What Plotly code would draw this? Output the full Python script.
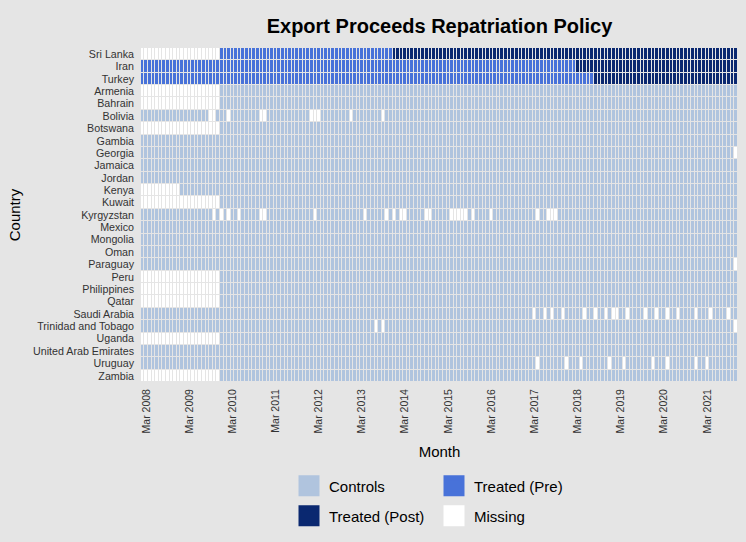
import pandas as pd
import numpy as np
import plotly.graph_objects as go

# rows, top to bottom
countries = [
    "Sri Lanka", "Iran", "Turkey", "Armenia", "Bahrain", "Bolivia", "Botswana",
    "Gambia", "Georgia", "Jamaica", "Jordan", "Kenya", "Kuwait", "Kyrgyzstan",
    "Mexico", "Mongolia", "Oman", "Paraguay", "Peru", "Philippines", "Qatar",
    "Saudi Arabia", "Trinidad and Tobago", "Uganda", "United Arab Emirates",
    "Uruguay", "Zambia",
]

first_month = "2008-02"
last_month = "2021-11"

# first month with data (missing before)
late_start = {
    "Sri Lanka": "2009-12", "Armenia": "2009-12", "Bahrain": "2009-12",
    "Botswana": "2009-12", "Kenya": "2009-01", "Kuwait": "2009-12",
    "Peru": "2009-12", "Philippines": "2009-12", "Qatar": "2009-12",
    "Uganda": "2009-12", "Zambia": "2009-12",
}

# single missing months
gaps = {
    "Bolivia": ["2009-09", "2009-10", "2010-02", "2010-11", "2010-12", "2012-01",
                "2012-02", "2012-03", "2012-12", "2013-09"],
    "Georgia": ["2021-11"],
    "Kyrgyzstan": ["2009-10", "2009-12", "2010-02", "2010-05", "2010-11", "2010-12",
                   "2012-02", "2013-04", "2013-10", "2013-12", "2014-02", "2014-03",
                   "2014-09", "2014-10", "2015-04", "2015-05", "2015-06", "2015-07",
                   "2015-08", "2015-10", "2016-03", "2017-04", "2017-07", "2017-08",
                   "2017-09"],
    "Paraguay": ["2021-11"],
    "Saudi Arabia": ["2017-03", "2017-06", "2017-08", "2017-11", "2018-05", "2018-08",
                     "2018-11", "2019-01", "2019-02", "2019-05", "2019-10", "2020-01",
                     "2020-04", "2020-07", "2020-12", "2021-04", "2021-09"],
    "Trinidad and Tobago": ["2013-07", "2013-09", "2021-11"],
    "Uruguay": ["2017-04", "2017-12", "2018-04", "2018-12", "2019-04", "2019-12",
                "2020-04", "2020-12", "2021-03"],
}

# treated countries: policy start month
treated = ["Sri Lanka", "Iran", "Turkey"]
policy_start = {"Sri Lanka": "2013-12", "Iran": "2018-03", "Turkey": "2018-08"}

status_names = ["Controls", "Treated (Pre)", "Treated (Post)", "Missing"]
status_colors = ["#B0C4DE", "#4872D9", "#0A2870", "#FFFFFF"]

tick_vals = [f"{y}-03-01" for y in range(2008, 2022)]
tick_labels = [f"Mar {y}" for y in range(2008, 2022)]

months = pd.date_range(first_month + "-01", last_month + "-01", freq="MS")
mkeys = months.strftime("%Y-%m")

z = []
for c in countries:
    row = []
    for m in mkeys:
        if c in late_start and m < late_start[c]:
            v = 3
        elif m in gaps.get(c, []):
            v = 3
        elif c in treated:
            v = 2 if m >= policy_start[c] else 1
        else:
            v = 0
        row.append(v)
    z.append(row)

cs = []
for i, col in enumerate(status_colors):
    cs.append([i / 4, col])
    cs.append([(i + 1) / 4, col])

font = "Liberation Sans, Arial, sans-serif"

fig = go.Figure()
fig.add_trace(go.Heatmap(
    x=months, y=countries, z=z,
    zmin=-0.5, zmax=3.5, colorscale=cs, showscale=False,
    xgap=1, ygap=1,
    customdata=np.array(status_names, dtype=object)[np.array(z)],
    hovertemplate="%{y}<br>%{x|%b %Y}<br>%{customdata}<extra></extra>",
))

for i, (name, col) in enumerate(zip(status_names, status_colors)):
    fig.add_trace(go.Scatter(
        x=[None], y=[None], mode="markers", name=name,
        marker=dict(symbol="square", size=16, color=col, line=dict(color=col, width=5)),
        legend="legend" if i < 2 else "legend2",
    ))

leg = dict(orientation="h", xref="container", yref="container", xanchor="left",
           yanchor="middle", entrywidth=100, font=dict(size=15, family=font, color="#000000"),
           bgcolor="rgba(0,0,0,0)", x=289 / 746)

fig.update_layout(
    width=746, height=542,
    margin=dict(l=141, r=8, t=48, b=160),
    paper_bgcolor="#E5E5E5",
    plot_bgcolor="#E5E5E5",
    font=dict(family=font, color="#333333"),
    title=dict(text="<b>Export Proceeds Repatriation Policy</b>", x=0.5, xref="paper",
               y=1 - 26 / 542, yanchor="middle",
               font=dict(size=20, family=font, color="#000000")),
    legend=dict(leg, y=1 - 486 / 542),
    legend2=dict(leg, y=1 - 516 / 542),
    xaxis=dict(
        type="date", tickvals=tick_vals, ticktext=tick_labels, tickangle=-90,
        tickfont=dict(size=10.5, color="#333333"), showgrid=False, zeroline=False,
        ticks="", ticklabelstandoff=4, automargin=False,
        title=dict(text="Month", font=dict(size=15, color="#000000"), standoff=14),
    ),
    yaxis=dict(
        type="category", autorange="reversed", dtick=1,
        tickfont=dict(size=10.7, color="#333333"),
        showgrid=False, zeroline=False, ticks="", ticklabelstandoff=6, automargin=False,
        title=dict(text="Country", font=dict(size=15, color="#000000"), standoff=8),
    ),
)

fig.write_html("out.html", config={"displayModeBar": False},
               post_script="document.body.style.margin='0';")
